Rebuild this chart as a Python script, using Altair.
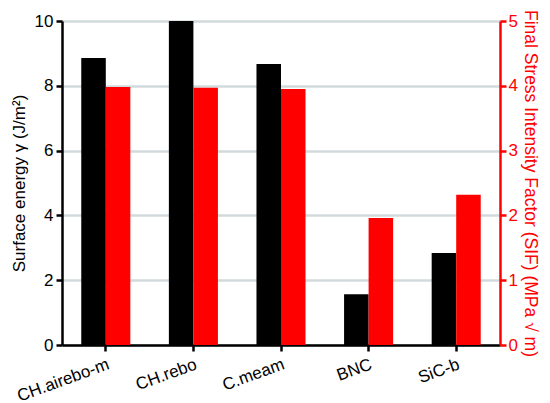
import altair as alt
import pandas as pd

categories = ["CH.airebo-m", "CH.rebo", "C.meam", "BNC", "SiC-b"]
surface_energy = [8.86, 10.0, 8.67, 1.57, 2.84]
sif = [3.98, 3.97, 3.95, 1.96, 2.32]

df1 = pd.DataFrame({"cat": categories, "val": surface_energy, "s": "a"})
df2 = pd.DataFrame({"cat": categories, "val": sif, "s": "b"})

font = "Liberation Sans"
xenc = alt.X("cat:N", sort=categories, title=None,
             scale=alt.Scale(paddingInner=0.44, paddingOuter=0.22),
             axis=alt.Axis(labelAngle=-20, labelFontSize=17, labelColor="black",
                           labelFont=font, domainColor="black", domainWidth=2.5,
                           tickColor="black", tickWidth=2.5, tickSize=6,
                           labelAlign="right", labelBaseline="top", labelPadding=5))
offs = alt.XOffset("s:N", scale=alt.Scale(domain=["a", "b"], paddingInner=0, paddingOuter=0))

left = alt.Chart(df1).mark_bar(color="black").encode(
    x=xenc,
    xOffset=offs,
    y=alt.Y("val:Q", scale=alt.Scale(domain=[0, 10], nice=False),
            axis=alt.Axis(values=[0, 2, 4, 6, 8, 10], title="Surface energy γ (J/m²)",
                          titleFontSize=17, titleFont=font, titleFontWeight="normal",
                          titleColor="black", labelFontSize=17, labelFont=font,
                          labelColor="black", domainColor="black", domainWidth=2.5,
                          tickColor="black", tickWidth=2.5, tickSize=6, labelPadding=3,
                          grid=True, gridColor="#d3dadd", gridWidth=2.5, titlePadding=6)),
)

right = alt.Chart(df2).mark_bar(color="#ff0000").encode(
    x=xenc,
    xOffset=offs,
    y=alt.Y("val:Q", scale=alt.Scale(domain=[0, 5], nice=False),
            axis=alt.Axis(orient="right", values=[0, 1, 2, 3, 4, 5],
                          title="Final Stress Intensity Factor (SIF) (MPa √ m)",
                          titleFontSize=17.5, titleFont=font, titleFontWeight="normal",
                          titleColor="#ff0000", labelFontSize=17, labelFont=font,
                          labelColor="#ff0000", domainColor="#ff0000", domainWidth=2.5,
                          tickColor="#ff0000", tickWidth=2.5, tickSize=6, labelPadding=2,
                          grid=False, titlePadding=3)),
)

chart = alt.layer(left, right).resolve_scale(y="independent").properties(
    width=438, height=324,
    autosize=alt.AutoSizeParams(type="none"),
    padding={"left": 54, "top": 13, "right": 42, "bottom": 58},
).configure_view(stroke=None).configure(background="white")

chart.save("out.html", embed_options={"renderer": "svg", "actions": False})
